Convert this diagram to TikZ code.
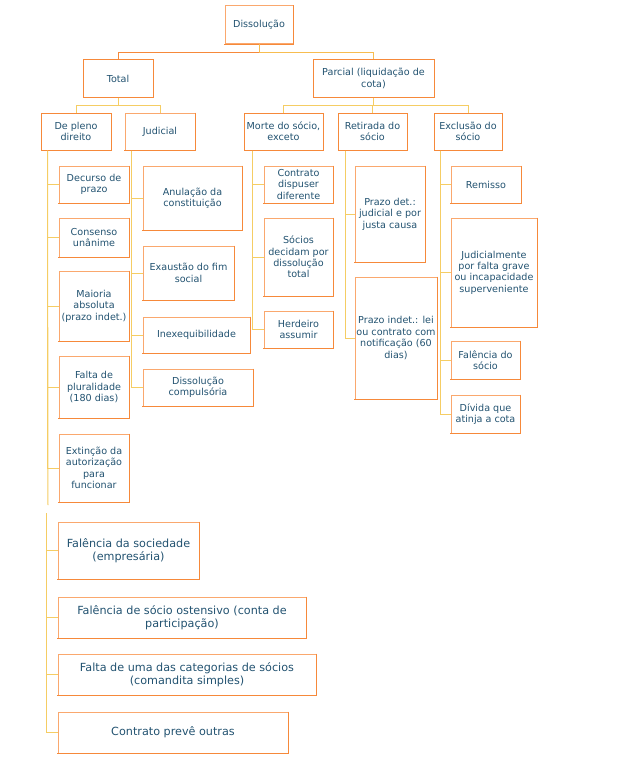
\documentclass[tikz,border=0pt]{standalone}
\usepackage{fontspec}
\setmainfont{DejaVu Sans}
\definecolor{boxline}{RGB}{246,137,58}
\definecolor{boxlight}{RGB}{250,168,110}
\definecolor{linkline}{RGB}{245,205,100}
\definecolor{boxtext}{RGB}{34,82,112}
\begin{document}
\begin{tikzpicture}[x=1pt,y=-1pt,
  box/.style={draw=boxline, line width=1pt, text=boxtext, align=center, inner sep=1pt, font=\fontsize{9.6}{11.4}\selectfont},
  leaf/.style={box, draw=boxlight,
    append after command={(\tikzlastnode.north east) edge[draw=boxline, line width=1pt] (\tikzlastnode.south east)
      (\tikzlastnode.south east) edge[draw=boxline, line width=1pt, line cap=rect] (\tikzlastnode.south west)}},
  bigbox/.style={leaf, font=\fontsize{11.2}{13.5}\selectfont},
  link/.style={draw=linkline, line width=1pt}]
\useasboundingbox (0,0) rectangle (627,776);

% Top level
\node[leaf, minimum width=68pt, minimum height=38pt] (diss) at (259,25) {Dissolução};
\node[box, minimum width=70pt, minimum height=37pt] (total) at (118,78.5) {Total};
\node[box, minimum width=121pt, minimum height=37pt] (parcial) at (373.5,78.5) {Parcial (liquidação de\\cota)};

% Second level
\node[box, minimum width=70pt, minimum height=37pt] (depleno) at (76,131.5) {De pleno\\direito};
\node[leaf, minimum width=70pt, minimum height=37pt] (judicial) at (160,131.5) {Judicial};
\node[box, minimum width=79pt, minimum height=37pt] (morte) at (283.5,131.5) {Morte do sócio,\\exceto};
\node[box, minimum width=69pt, minimum height=37pt] (retirada) at (372.5,131.5) {Retirada do\\sócio};
\node[box, minimum width=68pt, minimum height=37pt] (exclusao) at (468,131.5) {Exclusão do\\sócio};

% De pleno direito
\node[leaf, minimum width=70pt, minimum height=37pt] (decurso) at (94,184.5) {Decurso de\\prazo};
\node[leaf, minimum width=70pt, minimum height=39pt] (consenso) at (94,237.5) {Consenso\\unânime};
\node[leaf, minimum width=70pt, minimum height=70pt] (maioria) at (94,306) {Maioria\\absoluta\\(prazo indet.)};
\node[leaf, minimum width=70pt, minimum height=62pt] (pluralidade) at (94,387) {Falta de\\pluralidade\\(180 dias)};
\node[leaf, minimum width=70pt, minimum height=68pt] (extincao) at (94,468) {Extinção da\\autorização\\para\\funcionar};

% Judicial
\node[leaf, minimum width=99pt, minimum height=64pt] (anulacao) at (192.5,198) {Anulação da\\constituição};
\node[leaf, minimum width=91pt, minimum height=54pt] (exaustao) at (188.5,273) {Exaustão do fim\\social};
\node[leaf, minimum width=107pt, minimum height=36pt] (inexeq) at (196.5,335) {Inexequibilidade};
\node[leaf, minimum width=110pt, minimum height=37pt] (compulsoria) at (198,387.5) {Dissolução\\compulsória};

% Morte do socio
\node[leaf, minimum width=69pt, minimum height=37pt] (contrato) at (298.5,184.5) {Contrato\\dispuser\\diferente};
\node[leaf, minimum width=69pt, minimum height=78pt] (socios) at (298.5,257) {Sócios\\decidam por\\dissolução\\total};
\node[leaf, minimum width=69pt, minimum height=37pt] (herdeiro) at (298.5,329.5) {Herdeiro\\assumir};

% Retirada do socio
\node[leaf, minimum width=70pt, minimum height=96pt] (prazodet) at (390,214) {Prazo det.:\\judicial e por\\justa causa};
\node[leaf, minimum width=82pt, minimum height=122pt] (prazoind) at (396,338) {Prazo indet.: lei\\ou contrato com\\notificação (60\\dias)};

% Exclusao do socio
\node[leaf, minimum width=70pt, minimum height=37pt] (remisso) at (486,184.5) {Remisso};
\node[leaf, minimum width=86pt, minimum height=109pt] (judicialm) at (494,272.5) {Judicialmente\\por falta grave\\ou incapacidade\\superveniente};
\node[leaf, minimum width=69pt, minimum height=38pt] (falsocio) at (485.5,360) {Falência do\\sócio};
\node[leaf, minimum width=69pt, minimum height=38pt] (divida) at (485.5,414) {Dívida que\\atinja a cota};

% De pleno direito (cont.)
\node[bigbox, minimum width=141pt, minimum height=57pt] (falsoc) at (128.5,550.5) {Falência da sociedade\\(empresária)};
\node[bigbox, minimum width=248pt, minimum height=41pt] (ostensivo) at (182,617.5) {Falência de sócio ostensivo (conta de\\participação)};
\node[bigbox, minimum width=258pt, minimum height=41pt] (categoria) at (187,674.5) {Falta de uma das categorias de sócios\\(comandita simples)};
\node[bigbox, minimum width=230pt, minimum height=41pt] (outras) at (173,732.5) {Contrato prevê outras};

% Connectors
\draw[link, draw=boxline] (diss.south) -- ++(0,8) -| (total.north);
\draw[link, draw=linkline!80!orange] (diss.south) -- ++(0,8) -| (parcial.north);
\draw[link] (total.south) -- ++(0,8) -| (depleno.north);
\draw[link] (total.south) -- ++(0,8) -| (judicial.north);
\draw[link] (parcial.south) -- ++(0,8) -| (morte.north);
\draw[link] (parcial.south) -- ++(0,8) -| (retirada.north);
\draw[link] (parcial.south) -- ++(0,8) -| (exclusao.north);

\coordinate (plenoend) at (48,505);
\draw[link] ([xshift=7pt]depleno.south west) -- (plenoend);
\draw[link] ([xshift=7pt]depleno.south west) |- (decurso.west);
\draw[link] ([xshift=7pt]depleno.south west) |- (consenso.west);
\draw[link] ([xshift=7pt]depleno.south west) |- (maioria.west);
\draw[link] ([xshift=7pt]depleno.south west) |- (pluralidade.west);
\draw[link] ([xshift=7pt]depleno.south west) |- (extincao.west);

\draw[link] ([xshift=7pt]judicial.south west) |- (anulacao.west);
\draw[link] ([xshift=7pt]judicial.south west) |- (exaustao.west);
\draw[link] ([xshift=7pt]judicial.south west) |- (inexeq.west);
\draw[link] ([xshift=7pt]judicial.south west) |- (compulsoria.west);

\draw[link] ([xshift=9pt]morte.south west) |- (contrato.west);
\draw[link] ([xshift=9pt]morte.south west) |- (socios.west);
\draw[link] ([xshift=9pt]morte.south west) |- (herdeiro.west);

\draw[link] ([xshift=8pt]retirada.south west) |- (prazodet.west);
\draw[link] ([xshift=8pt]retirada.south west) |- (prazoind.west);

\draw[link] ([xshift=7pt]exclusao.south west) |- (remisso.west);
\draw[link] ([xshift=7pt]exclusao.south west) |- (judicialm.west);
\draw[link] ([xshift=7pt]exclusao.south west) |- (falsocio.west);
\draw[link] ([xshift=7pt]exclusao.south west) |- (divida.west);

\coordinate (plenocont) at (46,513);
\draw[link] (plenocont) |- (falsoc.west);
\draw[link] (plenocont) |- (ostensivo.west);
\draw[link] (plenocont) |- (categoria.west);
\draw[link] (plenocont) |- (outras.west);

\end{tikzpicture}
\end{document}
